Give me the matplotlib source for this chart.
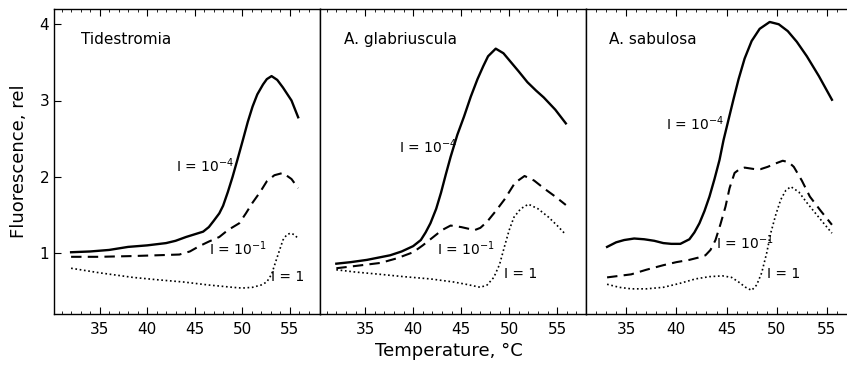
import matplotlib
matplotlib.use("Agg")
import matplotlib.pyplot as plt

plt.rcParams['font.family'] = ['DejaVu Sans']

# --- data (temperature, fluorescence) ---
panels = ['Tidestromia', 'A. glabriuscula', 'A. sabulosa']

# Tidestromia
t1_lo = [32.0, 34.0, 36.0, 38.0, 40.0, 42.0, 43.0, 44.1, 45.9, 46.5, 47.0, 47.6, 48.0, 48.5,
         49.0, 49.5, 50.1, 50.6, 51.1, 51.6, 52.2, 52.6, 53.1, 53.7, 54.3, 55.2, 55.9]
f1_lo = [1.01, 1.02, 1.04, 1.08, 1.10, 1.13, 1.16, 1.21, 1.28, 1.34, 1.42, 1.52, 1.62, 1.80,
         2.00, 2.22, 2.49, 2.72, 2.92, 3.08, 3.21, 3.28, 3.32, 3.27, 3.17, 3.00, 2.78]
t1_mid = [32.0, 35.0, 38.5, 41.0, 43.4, 44.5, 45.5, 46.5, 47.6, 48.5, 49.7, 50.4, 51.1, 51.9,
          52.6, 53.4, 54.3, 55.2, 55.9]
f1_mid = [0.95, 0.95, 0.96, 0.97, 0.98, 1.02, 1.09, 1.15, 1.21, 1.30, 1.39, 1.52, 1.66, 1.80,
          1.94, 2.02, 2.05, 1.97, 1.85]
t1_hi = [32.0, 35.0, 38.5, 41.0, 43.8, 46.5, 49.0, 50.0, 51.1, 52.0, 52.6, 53.1, 53.6, 54.3,
         54.7, 55.1, 55.5, 55.9]
f1_hi = [0.80, 0.74, 0.68, 0.65, 0.62, 0.58, 0.55, 0.54, 0.55, 0.58, 0.62, 0.72, 0.91, 1.17,
         1.24, 1.26, 1.24, 1.19]

# A. glabriuscula
t2_lo = [32.0, 33.5, 35.2, 37.6, 38.8, 40.0, 40.8, 41.3, 41.8, 42.4, 42.9, 43.4, 43.9, 44.6,
         45.3, 46.0, 46.7, 47.3, 47.8, 48.6, 49.4, 50.2, 51.0, 51.9, 52.8, 53.6, 54.8, 55.9]
f2_lo = [0.86, 0.88, 0.91, 0.97, 1.02, 1.09, 1.17, 1.27, 1.39, 1.58, 1.79, 2.03, 2.26, 2.55,
         2.79, 3.05, 3.28, 3.45, 3.58, 3.68, 3.62, 3.50, 3.38, 3.24, 3.13, 3.04, 2.88, 2.70]
t2_mid = [32.0, 34.0, 36.6, 38.3, 40.0, 41.0, 42.1, 43.0, 43.9, 45.0, 46.4, 47.0, 47.7, 48.6,
          49.5, 50.6, 51.6, 52.6, 53.6, 54.8, 55.9]
f2_mid = [0.80, 0.83, 0.87, 0.93, 1.01, 1.10, 1.21, 1.30, 1.36, 1.34, 1.30, 1.33, 1.41, 1.55,
          1.70, 1.92, 2.01, 1.95, 1.85, 1.74, 1.63]
t2_hi = [32.0, 34.0, 36.6, 39.0, 41.8, 44.2, 45.5, 47.0, 47.7, 48.4, 49.0, 49.5, 50.0, 50.5,
         51.2, 52.0, 53.0, 54.1, 55.0, 55.9]
f2_hi = [0.78, 0.75, 0.72, 0.69, 0.66, 0.62, 0.59, 0.55, 0.58, 0.68, 0.85, 1.08, 1.30, 1.47,
         1.58, 1.64, 1.58, 1.47, 1.36, 1.24]

# A. sabulosa
t3_lo = [33.1, 34.0, 34.8, 35.8, 36.8, 37.8, 38.7, 39.5, 40.4, 41.3, 41.8, 42.3, 42.8, 43.3,
         43.8, 44.3, 44.7, 45.2, 45.7, 46.2, 46.8, 47.5, 48.3, 49.3, 50.2, 51.1, 52.0, 53.0,
         54.2, 55.5]
f3_lo = [1.08, 1.14, 1.17, 1.19, 1.18, 1.16, 1.13, 1.12, 1.12, 1.18, 1.27, 1.39, 1.55, 1.74,
         1.97, 2.22, 2.48, 2.75, 3.02, 3.28, 3.55, 3.78, 3.94, 4.03, 4.00, 3.91, 3.77, 3.58,
         3.32, 3.01]
t3_mid = [33.1, 35.5, 37.0, 38.7, 40.0, 41.3, 42.2, 42.9, 43.4, 43.9, 44.4, 44.9, 45.3, 45.8,
          46.3, 46.8, 47.8, 48.4, 49.1, 50.0, 50.6, 51.2, 51.7, 52.5, 53.3, 54.4, 55.5]
f3_mid = [0.68, 0.72, 0.78, 0.84, 0.88, 0.91, 0.94, 0.97, 1.04, 1.17, 1.38, 1.61, 1.85, 2.05,
          2.10, 2.12, 2.10, 2.10, 2.13, 2.18, 2.21, 2.19, 2.13, 1.95, 1.74, 1.55, 1.37]
t3_hi = [33.1, 34.3, 35.5, 37.0, 38.7, 40.3, 41.9, 43.3, 44.6, 45.5, 46.2, 46.9, 47.5, 48.0,
         48.5, 49.0, 49.4, 49.9, 50.4, 50.9, 51.4, 52.2, 53.0, 54.3, 55.5]
f3_hi = [0.59, 0.55, 0.53, 0.53, 0.55, 0.60, 0.66, 0.69, 0.70, 0.68, 0.62, 0.55, 0.51, 0.58,
         0.74, 1.00, 1.26, 1.50, 1.70, 1.82, 1.87, 1.80, 1.66, 1.45, 1.26]

curves = [
    [(t1_lo, f1_lo), (t1_mid, f1_mid), (t1_hi, f1_hi)],
    [(t2_lo, f2_lo), (t2_mid, f2_mid), (t2_hi, f2_hi)],
    [(t3_lo, f3_lo), (t3_mid, f3_mid), (t3_hi, f3_hi)],
]
labels = ['I = 10$^{-4}$', 'I = 10$^{-1}$', 'I = 1']
# label anchor points (temperature, fluorescence)
label_pos = [
    [(43.0, 2.15), (46.5, 1.05), (53.0, 0.68)],
    [(38.5, 2.40), (42.5, 1.05), (49.5, 0.72)],
    [(39.0, 2.70), (44.0, 1.13), (49.0, 0.73)],
]
xlims = [(30.2, 58.2), (30.3, 58.0), (31.5, 57.0)]

styles = [
    dict(color='black', lw=1.7, ls='-'),
    dict(color='black', lw=1.5, ls=(0, (5, 3))),
    dict(color='black', lw=1.2, ls=(0, (1, 1.6))),
]

fig = plt.figure(figsize=(8.47, 3.68), dpi=100)
lefts = [54 / 847, 320 / 847, 586 / 847]
widths = [266 / 847, 266 / 847, 261 / 847]
bottom = 54 / 368
height = 305 / 368

for i in range(3):
    ax = fig.add_axes([lefts[i], bottom, widths[i], height])
    for (t, f), st in zip(curves[i], styles):
        ax.plot(t, f, solid_joinstyle='round', **st)
    for lab, (lx, ly) in zip(labels, label_pos[i]):
        ax.text(lx, ly, lab, fontsize=10, ha='left', va='center')
    ax.text(0.1 if i == 0 else 0.09, 0.9, panels[i], transform=ax.transAxes,
            fontsize=11, ha='left', va='center')
    ax.set_xlim(*xlims[i])
    ax.set_ylim(0.2, 4.2)
    ax.set_xticks([35, 40, 45, 50, 55])
    ax.set_xticks(range(31, 58), minor=True)
    ax.tick_params(axis='x', which='both', direction='in', top=True, labelsize=11, pad=6)
    ax.tick_params(axis='x', which='major', length=5)
    ax.tick_params(axis='x', which='minor', length=2.5)
    if i == 0:
        ax.set_yticks([1, 2, 3, 4])
        ax.set_yticklabels(['1', '2', '3', '4'])
        ax.tick_params(axis='y', direction='in', length=5, labelsize=11)
        ax.set_ylabel('Fluorescence, rel', fontsize=13, labelpad=8)
    else:
        ax.set_yticks([])
    if i == 2:
        ax.spines['right'].set_visible(False)
    for sp in ax.spines.values():
        sp.set_linewidth(1.0)

fig.text(0.53, 0.045, 'Temperature, \u00b0C', fontsize=13, ha='center', va='center')

fig.savefig('out.png', dpi=100)
